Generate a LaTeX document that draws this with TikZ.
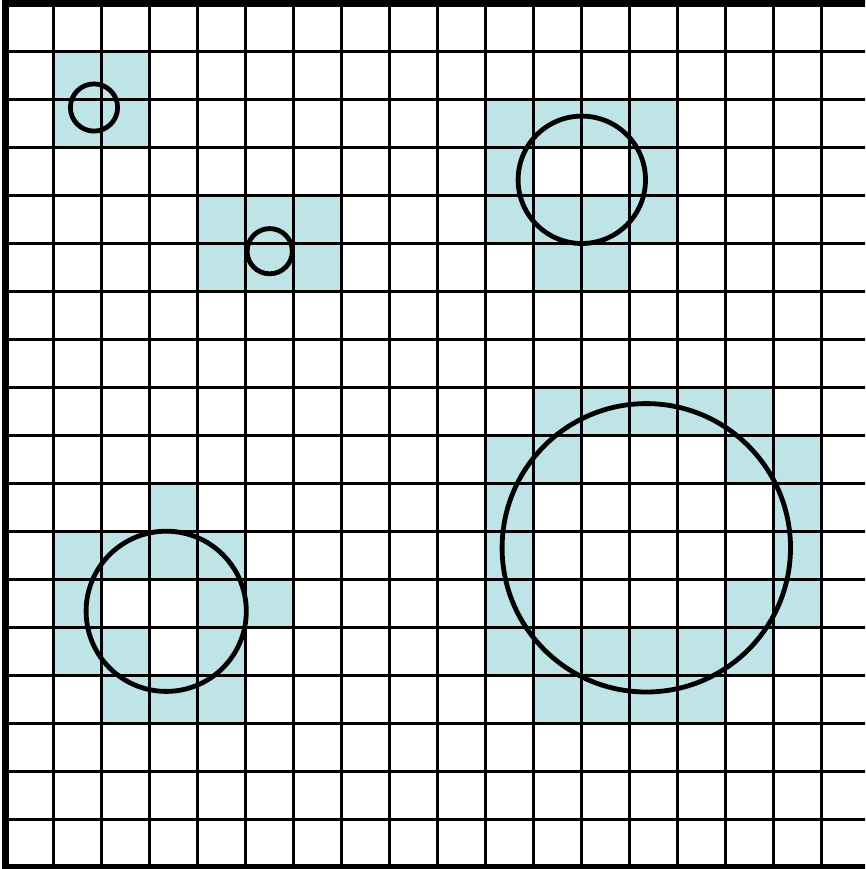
\documentclass[tikz,border=0pt]{standalone}
\usepackage{xcolor}
\definecolor{cellfill}{RGB}{190,228,232}
\begin{document}
\begin{tikzpicture}[x=1pt,y=-1pt,
  shade cell/.style={fill=cellfill},
  gridline/.style={line width=2.7pt,black},
  frameline/.style={line width=7pt,black},
  ring/.style={line width=4.8pt,black}]
\useasboundingbox (0,0) rectangle (865,869);
\clip (0,0) rectangle (865,869);
% shaded cells (col/row)
\foreach \c/\r in {1/1,2/1,1/2,2/2,
  4/4,5/4,6/4,4/5,5/5,6/5,
  10/2,11/2,12/2,13/2,10/3,13/3,10/4,11/4,12/4,13/4,11/5,12/5,
  11/8,12/8,13/8,14/8,15/8,
  10/9,11/9,15/9,16/9,
  10/10,16/10,10/11,16/11,
  10/12,15/12,16/12,
  10/13,11/13,12/13,13/13,14/13,15/13,
  11/14,12/14,13/14,14/14,
  3/10,1/11,2/11,3/11,4/11,1/12,4/12,5/12,1/13,2/13,4/13,2/14,3/14,4/14}
  \fill[shade cell] ({5.7+48*\c},{3.7+48*\r}) rectangle ++(48,48);
% grid lines
\foreach \k in {1,...,17}{
  \draw[gridline] ({5.7+48*\k},3.7) -- ({5.7+48*\k},867.7);
  \draw[gridline] (5.7,{3.7+48*\k}) -- (869.7,{3.7+48*\k});
}
% outer frame
\draw[frameline] (5.7,3.7) rectangle (869.7,867.7);
% circles
\draw[ring] (94,107.5) circle[radius=23.6];
\draw[ring] (269.7,251.2) circle[radius=22.6];
\draw[ring] (581.8,179.8) circle[radius=63.7];
\draw[ring] (646.3,547.8) circle[radius=144.2];
\draw[ring] (166.2,611.3) circle[radius=80.1];
\end{tikzpicture}
\end{document}
